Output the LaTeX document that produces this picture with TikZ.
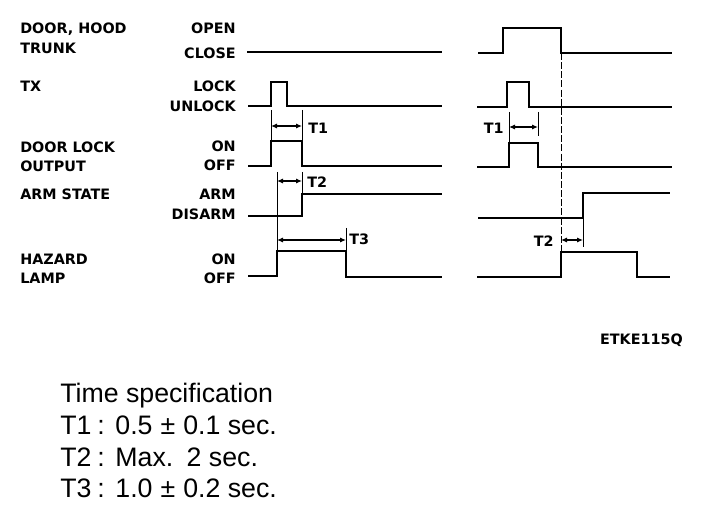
\documentclass[tikz,border=0pt]{standalone}
\usepackage{fontspec}
\setmainfont{Liberation Sans}
\newfontfamily\lblfont{DejaVu Sans}
\usetikzlibrary{arrows.meta}

\tikzset{
  sig/.style={line width=2pt},
  tick/.style={line width=0.6pt},
  guide/.style={line width=0.6pt, dashed, dash pattern=on 5pt off 1.5pt},
  dimarrow/.style={{Latex[length=1.5mm,width=1.3mm]}-{Latex[length=1.5mm,width=1.3mm]}, line width=0.9pt},
  signame/.style={font=\lblfont\bfseries\fontsize{10.2}{12}\selectfont, inner sep=0pt, anchor=base west},
  level/.style={font=\lblfont\bfseries\fontsize{10.2}{12}\selectfont, inner sep=0pt, anchor=base east},
  tname/.style={font=\lblfont\bfseries\fontsize{10.2}{12}\selectfont, inner sep=0pt},
  spec/.style={font=\fontsize{19}{22}\selectfont, inner sep=0pt, anchor=base west}
}

\begin{document}
\begin{tikzpicture}[x=0.025cm, y=-0.025cm]
  \useasboundingbox (0,0) rectangle (704,510);

  % signal names
  \node[signame] (door) at (20,34) {DOOR, HOOD};
  \node[signame] (trunk) at (20,54) {TRUNK};
  \node[signame] (tx) at (20,92) {TX};
  \node[signame] (lock) at (20,153) {DOOR LOCK};
  \node[signame] (output) at (20,172) {OUTPUT};
  \node[signame] (arm) at (20,200) {ARM STATE};
  \node[signame] (hazard) at (20,265) {HAZARD};
  \node[signame] (lamp) at (20,284) {LAMP};

  % levels
  \node[level] (open) at (236,34) {OPEN};
  \node[level] (close) at (236,59) {CLOSE};
  \node[level] (lk) at (236,92) {LOCK};
  \node[level] (unlk) at (236,112) {UNLOCK};
  \node[level] (on1) at (236,152) {ON};
  \node[level] (off1) at (236,171) {OFF};
  \node[level] (armed) at (236,200) {ARM};
  \node[level] (disarm) at (236,220) {DISARM};
  \node[level] (on2) at (236,265) {ON};
  \node[level] (off2) at (236,284) {OFF};

  % left: lock sequence
  \draw[sig] (247,52) -- (442,52);
  \draw[sig] (248,106) -- (271,106) -- (271,82) -- (287,82) -- (287,106) -- (442,106);
  \draw[sig] (248,166) -- (271,166) -- (271,141) -- (302,141) -- (302,166) -- (442,166);
  \draw[sig] (248,216) -- (302,216) -- (302,194) -- (442,194);
  \draw[sig] (248,276) -- (277,276) -- (277,251) -- (346,251) -- (346,277) -- (442,277);

  \draw[tick] (271,110) -- (271,141);
  \draw[tick] (302,110) -- (302,141);
  \draw[tick] (277,172) -- (277,251);
  \draw[tick] (302,172) -- (302,194);
  \draw[tick] (346,228) -- (346,251);

  \coordinate (t1a) at (271,126);
  \coordinate (t1b) at (302,126);
  \coordinate (t2a) at (277,181);
  \coordinate (t2b) at (302,181);
  \coordinate (t3a) at (277,240);
  \coordinate (t3b) at (346,240);
  \draw[dimarrow] (t1a) -- (t1b);
  \draw[dimarrow] (t2a) -- (t2b);
  \draw[dimarrow] (t3a) -- (t3b);
  \node[tname, anchor=west] (t1) at (308,128) {T1};
  \node[tname, anchor=west] (t2) at (307,182) {T2};
  \node[tname, anchor=west] (t3) at (349,239) {T3};

  % right: alarm on opening
  \draw[sig] (478,53) -- (503,53) -- (503,28) -- (561,28) -- (561,53) -- (672,53);
  \draw[sig] (477,107) -- (507,107) -- (507,82) -- (529,82) -- (529,107) -- (672,107);
  \draw[sig] (477,167) -- (509,167) -- (509,143) -- (538,143) -- (538,167) -- (672,167);
  \draw[sig] (478,218) -- (583,218) -- (583,193) -- (670,193);
  \draw[sig] (477,277) -- (561,277) -- (561,252) -- (637,252) -- (637,277) -- (670,277);
  \draw[guide] (561,53) -- (561,252);

  \draw[tick] (509,112) -- (509,143);
  \draw[tick] (538,112) -- (538,136);
  \draw[tick] (583,218) -- (583,247);

  \coordinate (r1a) at (509,127);
  \coordinate (r1b) at (538,127);
  \coordinate (r2a) at (561,240);
  \coordinate (r2b) at (583,240);
  \draw[dimarrow] (r1a) -- (r1b);
  \draw[dimarrow] (r2a) -- (r2b);
  \node[tname, anchor=east] (rt1) at (504,128) {T1};
  \node[tname, anchor=east] (rt2) at (554,241) {T2};

  \node[tname, anchor=east] (code) at (683,340) {ETKE115Q};

  % time specification
  \node[spec] (hd) at (60,403) {Time specification};
  \node[spec] (s1) at (60,435) {T1\hspace{0.22em}:\hspace{0.4em}0.5\hspace{0.3em}±\hspace{0.3em}0.1 sec.};
  \node[spec] (s2) at (60,467) {T2\hspace{0.22em}:\hspace{0.4em}Max.\hspace{0.5em}2 sec.};
  \node[spec] (s3) at (60,498) {T3\hspace{0.22em}:\hspace{0.4em}1.0\hspace{0.3em}±\hspace{0.3em}0.2 sec.};
\end{tikzpicture}
\end{document}
